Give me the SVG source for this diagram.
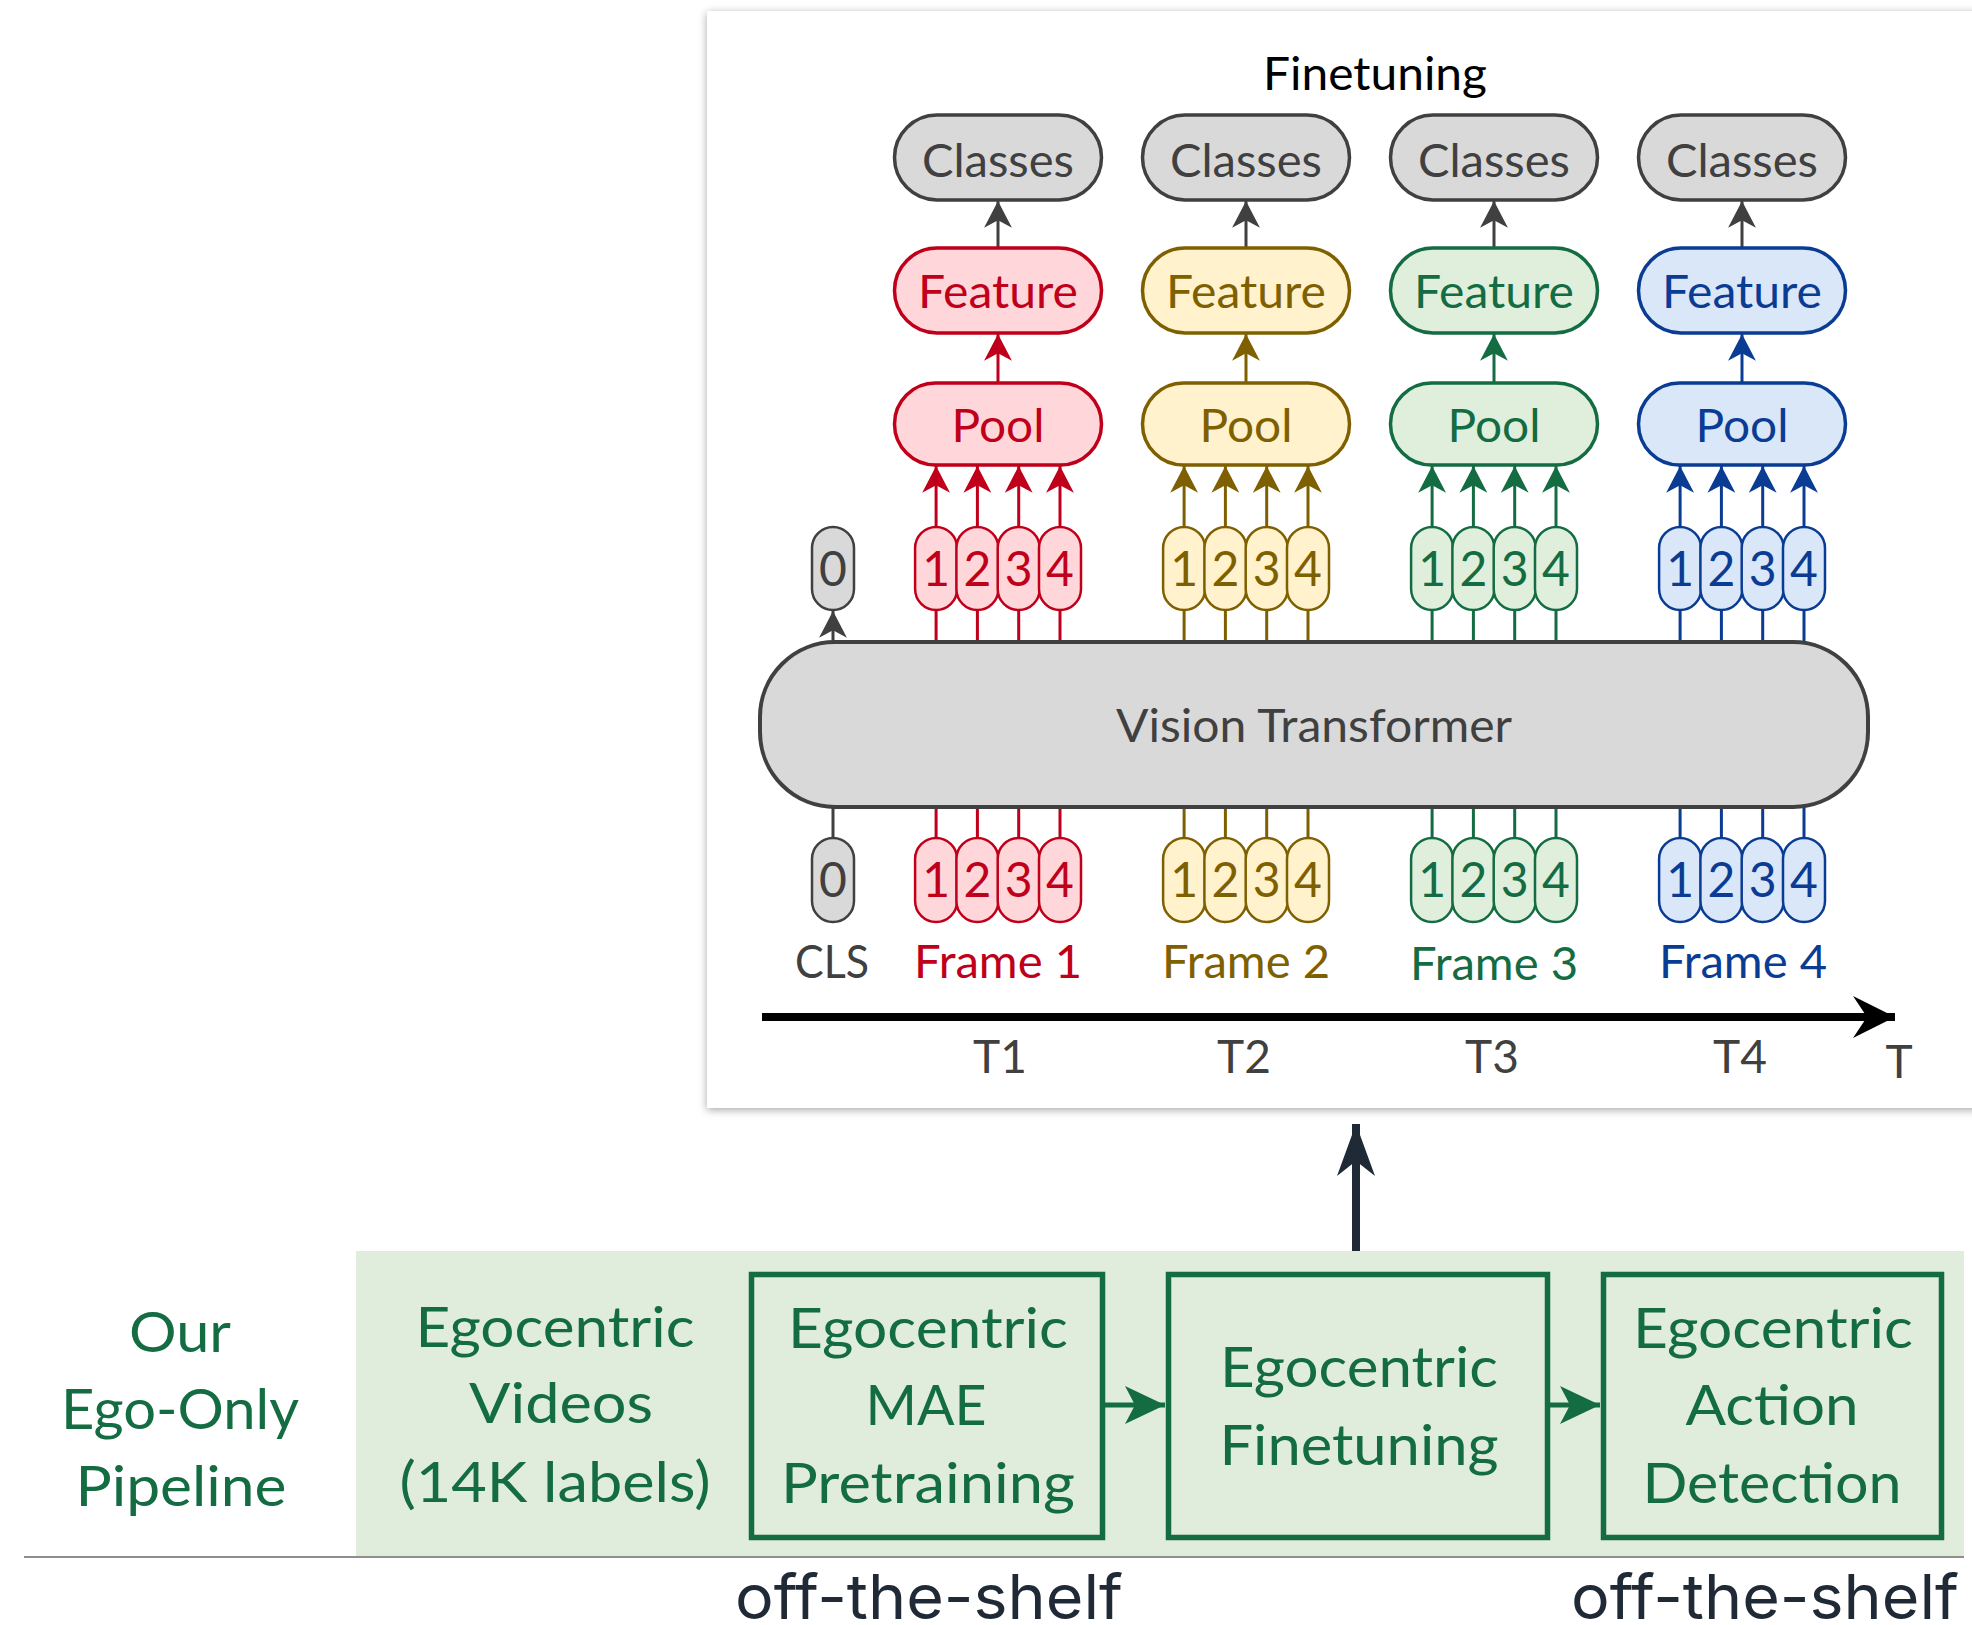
<svg xmlns="http://www.w3.org/2000/svg" width="1972" height="1625" viewBox="0 0 1972 1625">
<style>
.t{font-family:Lato,"Open Sans","Liberation Sans",sans-serif;text-anchor:middle}
.lab{font-size:46px}
.dig{font-size:48px}
.big{font-size:56px;fill:#146c43}
.gray{fill:#d9d9d9;stroke:#404040}
.red{fill:#ffd7da;stroke:#c0001a}
.yel{fill:#fff2cc;stroke:#7f6000}
.grn{fill:#e0efdc;stroke:#146c43}
.blu{fill:#dae7f9;stroke:#0b3c94}
.box{stroke-width:3.5}
.tok{stroke-width:2.5}
.tr{fill:#c0001a}.ty{fill:#7f6000}.tg{fill:#146c43}.tb{fill:#0b3c94}.tk{fill:#404040}
.cr{stroke:#c0001a}.cy{stroke:#7f6000}.cg{stroke:#146c43}.cb{stroke:#0b3c94}.ck{stroke:#404040}
.ln{stroke-width:3;fill:none}
.ots{font-family:Inter,"Noto Sans",sans-serif;font-size:62px;fill:#1f2a36;text-anchor:middle}
</style>
<defs>
<filter id="sh" x="-5%" y="-5%" width="110%" height="110%">
<feDropShadow dx="0" dy="2" stdDeviation="4" flood-color="#000" flood-opacity="0.35"/>
</filter>
<marker id="mk" markerUnits="userSpaceOnUse" markerWidth="30" markerHeight="30" viewBox="-26 -14 28 28" refX="0" refY="0" orient="auto"><path d="M0,0 L-25,-13 L-18,0 L-25,13 Z" fill="#404040"/></marker>
<marker id="mr" markerUnits="userSpaceOnUse" markerWidth="30" markerHeight="30" viewBox="-26 -14 28 28" refX="0" refY="0" orient="auto"><path d="M0,0 L-25,-13 L-18,0 L-25,13 Z" fill="#c0001a"/></marker>
<marker id="my" markerUnits="userSpaceOnUse" markerWidth="30" markerHeight="30" viewBox="-26 -14 28 28" refX="0" refY="0" orient="auto"><path d="M0,0 L-25,-13 L-18,0 L-25,13 Z" fill="#7f6000"/></marker>
<marker id="mg" markerUnits="userSpaceOnUse" markerWidth="30" markerHeight="30" viewBox="-26 -14 28 28" refX="0" refY="0" orient="auto"><path d="M0,0 L-25,-13 L-18,0 L-25,13 Z" fill="#146c43"/></marker>
<marker id="mb" markerUnits="userSpaceOnUse" markerWidth="30" markerHeight="30" viewBox="-26 -14 28 28" refX="0" refY="0" orient="auto"><path d="M0,0 L-25,-13 L-18,0 L-25,13 Z" fill="#0b3c94"/></marker>
<marker id="mgb" markerUnits="userSpaceOnUse" markerWidth="44" markerHeight="44" viewBox="-42 -21 44 42" refX="0" refY="0" orient="auto"><path d="M0,0 L-40,-19 L-30,0 L-40,19 Z" fill="#146c43"/></marker>
<marker id="mtl" markerUnits="userSpaceOnUse" markerWidth="46" markerHeight="46" viewBox="-44 -23 46 46" refX="0" refY="0" orient="auto"><path d="M0,0 L-42,-21 L-28,0 L-42,21 Z" fill="#000"/></marker>
<marker id="mup" markerUnits="userSpaceOnUse" markerWidth="56" markerHeight="44" viewBox="-54 -21 56 42" refX="0" refY="0" orient="auto"><path d="M0,0 L-52,-19 L-37,0 L-52,19 Z" fill="#1f2a36"/></marker>
</defs>

<!-- panel -->
<g id="panel">
<rect x="707" y="11" width="1300" height="1097" fill="#fff" filter="url(#sh)"/>
<text class="t" x="1375" y="90" font-size="46" fill="#000" textLength="224" lengthAdjust="spacingAndGlyphs">Finetuning</text>
</g>

<!-- bottom band -->
<g id="band">
<rect x="356" y="1251" width="1608" height="305" fill="#e0ecdc"/>
<line x1="24" y1="1557" x2="1964" y2="1557" stroke="#8c918c" stroke-width="2"/>
</g>

<!-- connectors -->
<g id="connectors">
<line class="ln ck" x1="998" y1="248" x2="998" y2="201" marker-end="url(#mk)"/>
<line class="ln ck" x1="1246" y1="248" x2="1246" y2="201" marker-end="url(#mk)"/>
<line class="ln ck" x1="1494" y1="248" x2="1494" y2="201" marker-end="url(#mk)"/>
<line class="ln ck" x1="1742" y1="248" x2="1742" y2="201" marker-end="url(#mk)"/>
<line class="ln cr" x1="998" y1="383" x2="998" y2="334" marker-end="url(#mr)"/>
<line class="ln cy" x1="1246" y1="383" x2="1246" y2="334" marker-end="url(#my)"/>
<line class="ln cg" x1="1494" y1="383" x2="1494" y2="334" marker-end="url(#mg)"/>
<line class="ln cb" x1="1742" y1="383" x2="1742" y2="334" marker-end="url(#mb)"/>
<line class="ln cr" x1="936.1" y1="527" x2="936.1" y2="466" marker-end="url(#mr)"/>
<line class="ln cr" x1="977.4" y1="527" x2="977.4" y2="466" marker-end="url(#mr)"/>
<line class="ln cr" x1="1018.7" y1="527" x2="1018.7" y2="466" marker-end="url(#mr)"/>
<line class="ln cr" x1="1060" y1="527" x2="1060" y2="466" marker-end="url(#mr)"/>
<line class="ln cy" x1="1184.1" y1="527" x2="1184.1" y2="466" marker-end="url(#my)"/>
<line class="ln cy" x1="1225.4" y1="527" x2="1225.4" y2="466" marker-end="url(#my)"/>
<line class="ln cy" x1="1266.7" y1="527" x2="1266.7" y2="466" marker-end="url(#my)"/>
<line class="ln cy" x1="1308" y1="527" x2="1308" y2="466" marker-end="url(#my)"/>
<line class="ln cg" x1="1432.1" y1="527" x2="1432.1" y2="466" marker-end="url(#mg)"/>
<line class="ln cg" x1="1473.4" y1="527" x2="1473.4" y2="466" marker-end="url(#mg)"/>
<line class="ln cg" x1="1514.7" y1="527" x2="1514.7" y2="466" marker-end="url(#mg)"/>
<line class="ln cg" x1="1556" y1="527" x2="1556" y2="466" marker-end="url(#mg)"/>
<line class="ln cb" x1="1680.1" y1="527" x2="1680.1" y2="466" marker-end="url(#mb)"/>
<line class="ln cb" x1="1721.4" y1="527" x2="1721.4" y2="466" marker-end="url(#mb)"/>
<line class="ln cb" x1="1762.7" y1="527" x2="1762.7" y2="466" marker-end="url(#mb)"/>
<line class="ln cb" x1="1804" y1="527" x2="1804" y2="466" marker-end="url(#mb)"/>
<line class="ln ck" x1="833" y1="642" x2="833" y2="611" marker-end="url(#mk)"/>
<g class="ln cr"><path d="M936.1 642V610M977.4 642V610M1018.7 642V610M1060 642V610M936.1 807V838M977.4 807V838M1018.7 807V838M1060 807V838"/></g>
<g class="ln cy"><path d="M1184.1 642V610M1225.4 642V610M1266.7 642V610M1308 642V610M1184.1 807V838M1225.4 807V838M1266.7 807V838M1308 807V838"/></g>
<g class="ln cg"><path d="M1432.1 642V610M1473.4 642V610M1514.7 642V610M1556 642V610M1432.1 807V838M1473.4 807V838M1514.7 807V838M1556 807V838"/></g>
<g class="ln cb"><path d="M1680.1 642V610M1721.4 642V610M1762.7 642V610M1804 642V610M1680.1 807V838M1721.4 807V838M1762.7 807V838M1804 807V838"/></g>
<line class="ln ck" x1="833" y1="807" x2="833" y2="838"/>
<line x1="762" y1="1017" x2="1895" y2="1017" stroke="#000" stroke-width="8" marker-end="url(#mtl)"/>
<line x1="1105" y1="1405" x2="1165" y2="1405" stroke="#146c43" stroke-width="5" marker-end="url(#mgb)"/>
<line x1="1550" y1="1405" x2="1600" y2="1405" stroke="#146c43" stroke-width="5" marker-end="url(#mgb)"/>
<line x1="1356" y1="1251" x2="1356" y2="1124" stroke="#1f2a36" stroke-width="8" marker-end="url(#mup)"/>
</g>

<g id="classes1"><rect class="gray box" x="894.5" y="115" width="207" height="85" rx="42.5"/><text class="t lab tk" x="998" y="177" textLength="152" lengthAdjust="spacingAndGlyphs">Classes</text></g>
<g id="feature1"><rect class="red box" x="894.5" y="248" width="207" height="85" rx="42.5"/><text class="t lab tr" x="998" y="308" textLength="160" lengthAdjust="spacingAndGlyphs">Feature</text></g>
<g id="pool1"><rect class="red box" x="894.5" y="383" width="207" height="82" rx="41"/><text class="t lab tr" x="998" y="442" textLength="93" lengthAdjust="spacingAndGlyphs">Pool</text></g>
<g id="classes2"><rect class="gray box" x="1142.5" y="115" width="207" height="85" rx="42.5"/><text class="t lab tk" x="1246" y="177" textLength="152" lengthAdjust="spacingAndGlyphs">Classes</text></g>
<g id="feature2"><rect class="yel box" x="1142.5" y="248" width="207" height="85" rx="42.5"/><text class="t lab ty" x="1246" y="308" textLength="160" lengthAdjust="spacingAndGlyphs">Feature</text></g>
<g id="pool2"><rect class="yel box" x="1142.5" y="383" width="207" height="82" rx="41"/><text class="t lab ty" x="1246" y="442" textLength="93" lengthAdjust="spacingAndGlyphs">Pool</text></g>
<g id="classes3"><rect class="gray box" x="1390.5" y="115" width="207" height="85" rx="42.5"/><text class="t lab tk" x="1494" y="177" textLength="152" lengthAdjust="spacingAndGlyphs">Classes</text></g>
<g id="feature3"><rect class="grn box" x="1390.5" y="248" width="207" height="85" rx="42.5"/><text class="t lab tg" x="1494" y="308" textLength="160" lengthAdjust="spacingAndGlyphs">Feature</text></g>
<g id="pool3"><rect class="grn box" x="1390.5" y="383" width="207" height="82" rx="41"/><text class="t lab tg" x="1494" y="442" textLength="93" lengthAdjust="spacingAndGlyphs">Pool</text></g>
<g id="classes4"><rect class="gray box" x="1638.5" y="115" width="207" height="85" rx="42.5"/><text class="t lab tk" x="1742" y="177" textLength="152" lengthAdjust="spacingAndGlyphs">Classes</text></g>
<g id="feature4"><rect class="blu box" x="1638.5" y="248" width="207" height="85" rx="42.5"/><text class="t lab tb" x="1742" y="308" textLength="160" lengthAdjust="spacingAndGlyphs">Feature</text></g>
<g id="pool4"><rect class="blu box" x="1638.5" y="383" width="207" height="82" rx="41"/><text class="t lab tb" x="1742" y="442" textLength="93" lengthAdjust="spacingAndGlyphs">Pool</text></g>

<g id="out-cls"><rect class="gray tok" x="812" y="527" width="42" height="83" rx="21"/><text class="t dig tk" x="833" y="586">0</text></g>
<g id="out-frame1">
<rect class="red tok" x="915.1" y="527" width="42" height="83" rx="21"/><rect class="red tok" x="956.4" y="527" width="42" height="83" rx="21"/><rect class="red tok" x="997.7" y="527" width="42" height="83" rx="21"/><rect class="red tok" x="1039" y="527" width="42" height="83" rx="21"/>
<text class="t dig tr" y="586"><tspan x="936.1">1</tspan><tspan x="977.4">2</tspan><tspan x="1018.7">3</tspan><tspan x="1060">4</tspan></text>
</g>
<g id="out-frame2">
<rect class="yel tok" x="1163.1" y="527" width="42" height="83" rx="21"/><rect class="yel tok" x="1204.4" y="527" width="42" height="83" rx="21"/><rect class="yel tok" x="1245.7" y="527" width="42" height="83" rx="21"/><rect class="yel tok" x="1287" y="527" width="42" height="83" rx="21"/>
<text class="t dig ty" y="586"><tspan x="1184.1">1</tspan><tspan x="1225.4">2</tspan><tspan x="1266.7">3</tspan><tspan x="1308">4</tspan></text>
</g>
<g id="out-frame3">
<rect class="grn tok" x="1411.1" y="527" width="42" height="83" rx="21"/><rect class="grn tok" x="1452.4" y="527" width="42" height="83" rx="21"/><rect class="grn tok" x="1493.7" y="527" width="42" height="83" rx="21"/><rect class="grn tok" x="1535" y="527" width="42" height="83" rx="21"/>
<text class="t dig tg" y="586"><tspan x="1432.1">1</tspan><tspan x="1473.4">2</tspan><tspan x="1514.7">3</tspan><tspan x="1556">4</tspan></text>
</g>
<g id="out-frame4">
<rect class="blu tok" x="1659.1" y="527" width="42" height="83" rx="21"/><rect class="blu tok" x="1700.4" y="527" width="42" height="83" rx="21"/><rect class="blu tok" x="1741.7" y="527" width="42" height="83" rx="21"/><rect class="blu tok" x="1783" y="527" width="42" height="83" rx="21"/>
<text class="t dig tb" y="586"><tspan x="1680.1">1</tspan><tspan x="1721.4">2</tspan><tspan x="1762.7">3</tspan><tspan x="1804">4</tspan></text>
</g>

<g id="vit"><rect x="760" y="642" width="1108" height="165" rx="75" fill="#d9d9d9" stroke="#404040" stroke-width="4"/><text class="t lab tk" x="1314" y="742" textLength="396" lengthAdjust="spacingAndGlyphs">Vision Transformer</text></g>

<g id="in-cls"><rect class="gray tok" x="812" y="838" width="42" height="84" rx="21"/><text class="t dig tk" x="833" y="897">0</text><text class="t lab tk" x="832" y="978" textLength="74" lengthAdjust="spacingAndGlyphs">CLS</text></g>
<g id="in-frame1">
<rect class="red tok" x="915.1" y="838" width="42" height="84" rx="21"/><rect class="red tok" x="956.4" y="838" width="42" height="84" rx="21"/><rect class="red tok" x="997.7" y="838" width="42" height="84" rx="21"/><rect class="red tok" x="1039" y="838" width="42" height="84" rx="21"/>
<text class="t dig tr" y="897"><tspan x="936.1">1</tspan><tspan x="977.4">2</tspan><tspan x="1018.7">3</tspan><tspan x="1060">4</tspan></text>
<text class="t lab tr" x="998" y="978" textLength="168" lengthAdjust="spacingAndGlyphs">Frame 1</text>
</g>
<g id="in-frame2">
<rect class="yel tok" x="1163.1" y="838" width="42" height="84" rx="21"/><rect class="yel tok" x="1204.4" y="838" width="42" height="84" rx="21"/><rect class="yel tok" x="1245.7" y="838" width="42" height="84" rx="21"/><rect class="yel tok" x="1287" y="838" width="42" height="84" rx="21"/>
<text class="t dig ty" y="897"><tspan x="1184.1">1</tspan><tspan x="1225.4">2</tspan><tspan x="1266.7">3</tspan><tspan x="1308">4</tspan></text>
<text class="t lab ty" x="1246" y="978" textLength="168" lengthAdjust="spacingAndGlyphs">Frame 2</text>
</g>
<g id="in-frame3">
<rect class="grn tok" x="1411.1" y="838" width="42" height="84" rx="21"/><rect class="grn tok" x="1452.4" y="838" width="42" height="84" rx="21"/><rect class="grn tok" x="1493.7" y="838" width="42" height="84" rx="21"/><rect class="grn tok" x="1535" y="838" width="42" height="84" rx="21"/>
<text class="t dig tg" y="897"><tspan x="1432.1">1</tspan><tspan x="1473.4">2</tspan><tspan x="1514.7">3</tspan><tspan x="1556">4</tspan></text>
<text class="t lab tg" x="1494" y="980" textLength="168" lengthAdjust="spacingAndGlyphs">Frame 3</text>
</g>
<g id="in-frame4">
<rect class="blu tok" x="1659.1" y="838" width="42" height="84" rx="21"/><rect class="blu tok" x="1700.4" y="838" width="42" height="84" rx="21"/><rect class="blu tok" x="1741.7" y="838" width="42" height="84" rx="21"/><rect class="blu tok" x="1783" y="838" width="42" height="84" rx="21"/>
<text class="t dig tb" y="897"><tspan x="1680.1">1</tspan><tspan x="1721.4">2</tspan><tspan x="1762.7">3</tspan><tspan x="1804">4</tspan></text>
<text class="t lab tb" x="1743" y="978" textLength="168" lengthAdjust="spacingAndGlyphs">Frame 4</text>
</g>

<g id="time-labels" class="t lab tk">
<text x="1000" y="1073">T1</text>
<text x="1244" y="1073">T2</text>
<text x="1492" y="1073">T3</text>
<text x="1740" y="1073">T4</text>
<text x="1899" y="1078">T</text>
</g>

<g id="our-pipeline" class="t big">
<text x="180" y="1352" textLength="102" lengthAdjust="spacingAndGlyphs">Our</text>
<text x="180" y="1429" textLength="238" lengthAdjust="spacingAndGlyphs">Ego-Only</text>
<text x="181" y="1506" textLength="211" lengthAdjust="spacingAndGlyphs">Pipeline</text>
</g>
<g id="videos" class="t big">
<text x="555" y="1347" textLength="279" lengthAdjust="spacingAndGlyphs">Egocentric</text>
<text x="561" y="1423" textLength="184" lengthAdjust="spacingAndGlyphs">Videos</text>
<text x="555" y="1502" textLength="311" lengthAdjust="spacingAndGlyphs">(14K labels)</text>
</g>
<g id="mae">
<rect x="751.5" y="1274.5" width="351" height="263" fill="none" stroke="#146c43" stroke-width="5.5"/>
<g class="t big">
<text x="928" y="1348" textLength="280" lengthAdjust="spacingAndGlyphs">Egocentric</text>
<text x="926" y="1425" textLength="121" lengthAdjust="spacingAndGlyphs">MAE</text>
<text x="928" y="1503" textLength="294" lengthAdjust="spacingAndGlyphs">Pretraining</text>
</g>
</g>
<g id="ego-finetuning">
<rect x="1168.5" y="1274.5" width="379" height="263" fill="none" stroke="#146c43" stroke-width="5.5"/>
<g class="t big">
<text x="1359" y="1387" textLength="278" lengthAdjust="spacingAndGlyphs">Egocentric</text>
<text x="1359" y="1465" textLength="279" lengthAdjust="spacingAndGlyphs">Finetuning</text>
</g>
</g>
<g id="action-detection">
<rect x="1603.5" y="1274.5" width="338" height="263" fill="none" stroke="#146c43" stroke-width="5.5"/>
<g class="t big">
<text x="1773" y="1348" textLength="280" lengthAdjust="spacingAndGlyphs">Egocentric</text>
<text x="1772" y="1425" textLength="173" lengthAdjust="spacingAndGlyphs">Action</text>
<text x="1772" y="1503" textLength="259" lengthAdjust="spacingAndGlyphs">Detection</text>
</g>
</g>
<g id="off-the-shelf">
<text class="ots" x="929" y="1619" textLength="388" lengthAdjust="spacingAndGlyphs">off-the-shelf</text>
<text class="ots" x="1765" y="1619" textLength="388" lengthAdjust="spacingAndGlyphs">off-the-shelf</text>
</g>
</svg>
